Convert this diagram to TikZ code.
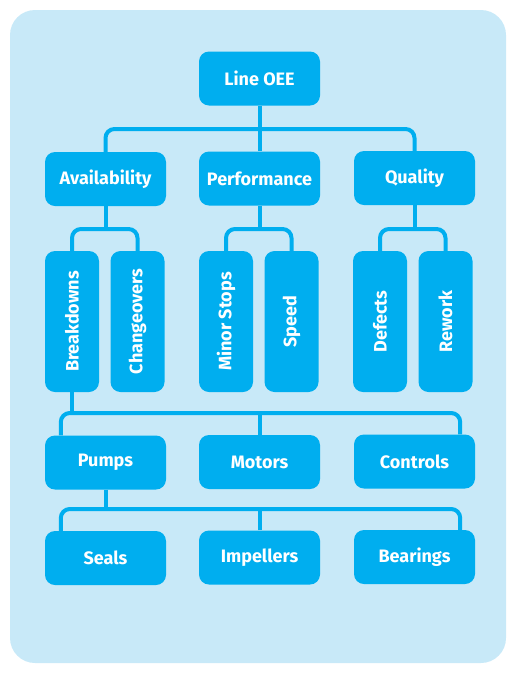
\documentclass[tikz,border=0pt]{standalone}
\usepackage{fontspec}
\setmainfont{Fira Sans}
\usetikzlibrary{positioning,calc}
\definecolor{bgblue}{HTML}{C8E9F8}
\definecolor{boxblue}{HTML}{00AEEF}
\tikzset{
  hbox/.style={draw=none, fill=boxblue, rounded corners=10pt, minimum width=121pt, minimum height=54pt, inner sep=0pt, text=white, font=\bfseries\fontsize{18}{20}\selectfont},
  vbox/.style={draw=none, fill=boxblue, rounded corners=10pt, minimum width=54pt, minimum height=141pt, inner sep=0pt},
  vlabel/.style={text=white, rotate=90, font=\bfseries\fontsize{18}{20}\selectfont, inner sep=0pt},
  conn/.style={draw=boxblue, line width=4pt, rounded corners=9pt}
}
\begin{document}
\begin{tikzpicture}[x=1pt,y=1pt]
\useasboundingbox (0,0) rectangle (514,-673);
\fill[bgblue, rounded corners=25pt] (10,-10) rectangle (506,-663);
% nodes
\node[hbox] (oee) at (259.5,-78.5) {Line OEE};
\node[hbox] (avail) at (105.5,-179) {Availability};
\node[hbox] (perf) at (259.5,-178.5) {Performance};
\node[hbox] (qual) at (414.5,-178) {Quality};
\node[vbox] (bd) at (72,-321.5) {};
\node[vbox] (co) at (137.5,-321.5) {};
\node[vbox] (ms) at (226,-321.5) {};
\node[vbox] (sp) at (291.5,-321.5) {};
\node[vbox] (df) at (380,-321.5) {};
\node[vbox] (rw) at (445.5,-321.5) {};
\node[vlabel] (bdl) at (bd.center) {Breakdowns};
\node[vlabel] (col) at (co.center) {Changeovers};
\node[vlabel] (msl) at (ms.center) {Minor Stops};
\node[vlabel] (spl) at (sp.center) {Speed};
\node[vlabel] (dfl) at (df.center) {Defects};
\node[vlabel] (rwl) at (rw.center) {Rework};
\node[hbox] (pumps) at (105.5,-462.5) {Pumps};
\node[hbox] (motors) at (259.5,-462) {Motors};
\node[hbox] (ctrl) at (414.5,-461.5) {Controls};
\node[hbox] (seals) at (105.5,-558) {Seals};
\node[hbox] (imp) at (259.5,-557.5) {Impellers};
\node[hbox] (bear) at (414.5,-557) {Bearings};
% bus coordinates
\coordinate (bus1) at (0,-129);
\coordinate (busA) at (0,-229);
\coordinate (busP) at (0,-229);
\coordinate (busQ) at (0,-229);
\coordinate (bus2) at (0,-413);
\coordinate (bus3) at (0,-509);
\coordinate (pl) at ([xshift=16pt]pumps.north west);
\coordinate (pr) at ([xshift=-15pt]ctrl.north east);
\coordinate (sl) at ([xshift=16pt]seals.north west);
\coordinate (br) at ([xshift=-15pt]bear.north east);
% connectors
\draw[conn] (oee.south) -- (perf.north);
\draw[conn] (avail.north) |- (bus1 -| qual.north) -- (qual.north);
\draw[conn] (avail.south) -- (avail.south |- busA);
\draw[conn] (bd.north) |- (busA -| co.north) -- (co.north);
\draw[conn] (perf.south) -- (perf.south |- busP);
\draw[conn] (ms.north) |- (busP -| sp.north) -- (sp.north);
\draw[conn] (qual.south) -- (qual.south |- busQ);
\draw[conn] (df.north) |- (busQ -| rw.north) -- (rw.north);
\draw[conn] (bd.south) -- (bd.south |- bus2);
\draw[conn] (pl) |- (bus2 -| pr) -- (pr);
\draw[conn] (motors.north) -- (motors.north |- bus2);
\draw[conn] (pumps.south) -- (pumps.south |- bus3);
\draw[conn] (sl) |- (bus3 -| br) -- (br);
\draw[conn] (imp.north) -- (imp.north |- bus3);
\end{tikzpicture}
\end{document}
